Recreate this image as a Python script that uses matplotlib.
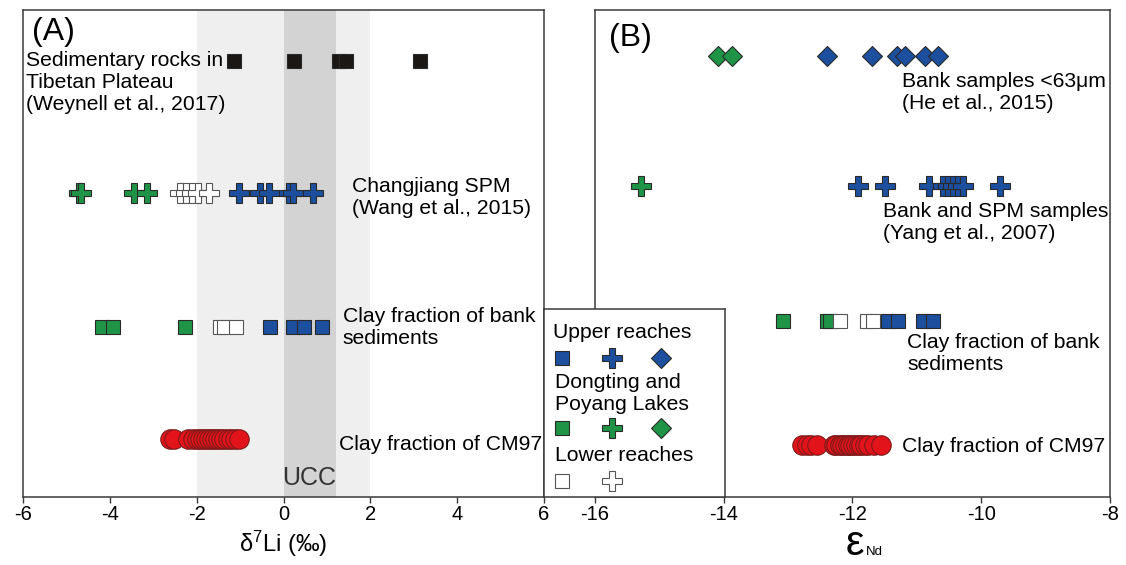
import numpy as np
import matplotlib
matplotlib.use("Agg")
import matplotlib.pyplot as plt

plt.rcParams['font.family'] = ['Liberation Sans', 'DejaVu Sans']
plt.rcParams['mathtext.fontset'] = 'custom'
plt.rcParams['mathtext.rm'] = 'Liberation Sans'
plt.rcParams['mathtext.it'] = 'Liberation Sans:italic'
plt.rcParams['axes.unicode_minus'] = False

# ---- delta7Li (panel A) ----
li_rocks = [-1.15, 0.25, 1.28, 1.45, 3.15]
li_spm_lakes = [-4.72, -4.66, -3.45, -3.15]
li_spm_lower = [-2.38, -2.24, -2.1, -1.98, -1.72]
li_spm_upper = [-1.02, -0.55, -0.33, 0.12, 0.22, 0.68]
li_bank_lakes = [-4.18, -3.93, -2.27]
li_bank_lower = [-1.47, -1.38, -1.1]
li_bank_upper = [-0.31, 0.22, 0.47, 0.88]
li_cm97 = [-2.62, -2.52, -2.2, -2.08, -2.0, -1.93, -1.86, -1.79, -1.72,
           -1.65, -1.57, -1.5, -1.43, -1.36, -1.28, -1.2, -1.12, -1.02]
ucc_li_range = (-2, 2)
ucc_li_core = (0, 1.22)

# ---- eNd (panel B) ----
nd_63_lakes = [-14.08, -13.87]
nd_63_upper = [-12.39, -11.7, -11.31, -11.18, -10.87, -10.67]
nd_spm_lakes = [-15.28]
nd_spm_upper = [-11.91, -11.49, -10.81, -10.6, -10.52, -10.44, -10.36, -10.28, -9.71]
nd_bank_lakes = [-13.07, -12.4, -12.35]
nd_bank_lower = [-12.19, -11.77, -11.68]
nd_bank_upper = [-11.45, -11.3, -10.91, -10.75]
nd_cm97 = [-12.78, -12.71, -12.65, -12.55, -12.29, -12.25, -12.2, -12.16, -12.12,
           -12.07, -12.03, -11.99, -11.95, -11.9, -11.86, -11.81, -11.76, -11.67, -11.55]

BLUE = '#1c4f9e'
GREEN = '#1f9446'
RED = '#e3131b'
EDGE = '#2a2a2a'
FS = 15.2
LS = 1.2

styles = {
    'sq': dict(marker='s', ms=9.5, mew=0.8),
    'plus': dict(marker='P', ms=14, mew=0.8),
    'dia': dict(marker='D', ms=10.5, mew=0.8),
    'circ': dict(marker='o', ms=14, mew=0.8),
}


def row(ax, xs, y, kind, color, edge=EDGE):
    ax.plot(xs, np.full(len(xs), y), ls='none', mfc=color, mec=edge,
            zorder=3, **styles[kind])


fig = plt.figure(figsize=(11.26, 5.65), dpi=100)
W, H = 1126, 565
ax_a = fig.add_axes([23 / W, 68 / H, 521 / W, 487 / H])
ax_b = fig.add_axes([594.6 / W, 68 / H, 515.6 / W, 487 / H])

for ax in (ax_a, ax_b):
    ax.set_ylim(0, 1)
    ax.set_yticks([])
    for s in ax.spines.values():
        s.set_color('#3a3a3a')
        s.set_linewidth(1.1)
    ax.tick_params(axis='x', direction='out', length=4, width=1, pad=2,
                   labelsize=14.5, color='#3a3a3a')

# panel A
ax_a.set_xlim(-6, 6)
ax_a.set_xticks(np.arange(-6, 7, 2))
ax_a.axvspan(*ucc_li_range, color='#efefef', zorder=0, lw=0)
ax_a.axvspan(*ucc_li_core, color='#d3d3d3', zorder=0, lw=0)

row(ax_a, li_rocks, 0.895, 'sq', '#1a1715', EDGE)
row(ax_a, li_spm_lakes, 0.624, 'plus', GREEN)
row(ax_a, li_spm_lower, 0.624, 'plus', 'white', '#555555')
row(ax_a, li_spm_upper, 0.624, 'plus', BLUE)
row(ax_a, li_bank_lakes, 0.349, 'sq', GREEN)
row(ax_a, li_bank_lower, 0.349, 'sq', 'white', '#555555')
row(ax_a, li_bank_upper, 0.349, 'sq', BLUE)
row(ax_a, li_cm97, 0.120, 'circ', RED, '#7a1a1a')

ax_a.text(-5.8, 0.955, '(A)', fontsize=23, va='center', ha='left')
ax_a.text(-5.94, 0.852, 'Sedimentary rocks in\nTibetan Plateau\n(Weynell et al., 2017)',
          fontsize=FS, va='center', ha='left', linespacing=LS)
ax_a.text(1.57, 0.616, 'Changjiang SPM\n(Wang et al., 2015)',
          fontsize=FS, va='center', ha='left', linespacing=LS)
ax_a.text(1.36, 0.349, 'Clay fraction of bank\nsediments',
          fontsize=FS, va='center', ha='left', linespacing=LS)
ax_a.text(1.27, 0.107, 'Clay fraction of CM97', fontsize=FS, va='center', ha='left')
ax_a.text(0.6, 0.040, 'UCC', fontsize=18, va='center', ha='center', color='#333333')
ax_a.set_xlabel(r'δ$^{7}$Li (‰)', fontsize=17)
ax_a.xaxis.set_label_coords(0.5, -0.066)

# panel B
ax_b.set_xlim(-16, -8)
ax_b.set_xticks(np.arange(-16, -7, 2))

row(ax_b, nd_63_lakes, 0.906, 'dia', GREEN)
row(ax_b, nd_63_upper, 0.906, 'dia', BLUE)
row(ax_b, nd_spm_lakes, 0.639, 'plus', GREEN)
row(ax_b, nd_spm_upper, 0.639, 'plus', BLUE)
row(ax_b, nd_bank_lakes, 0.362, 'sq', GREEN)
row(ax_b, nd_bank_lower, 0.362, 'sq', 'white', '#555555')
row(ax_b, nd_bank_upper, 0.362, 'sq', BLUE)
row(ax_b, nd_cm97, 0.107, 'circ', RED, '#7a1a1a')

ax_b.text(-15.77, 0.942, '(B)', fontsize=23, va='center', ha='left')
ax_b.text(-11.23, 0.830, 'Bank samples <63μm\n(He et al., 2015)',
          fontsize=FS, va='center', ha='left', linespacing=LS)
ax_b.text(-11.53, 0.563, 'Bank and SPM samples\n(Yang et al., 2007)',
          fontsize=FS, va='center', ha='left', linespacing=LS)
ax_b.text(-11.15, 0.294, 'Clay fraction of bank\nsediments',
          fontsize=FS, va='center', ha='left', linespacing=LS)
ax_b.text(-11.23, 0.103, 'Clay fraction of CM97', fontsize=FS, va='center', ha='left')
fig.text(855 / W, 10 / H, 'ε', fontsize=30, ha='center', va='baseline')
fig.text(866 / W, 10 / H, 'Nd', fontsize=9.5, ha='left', va='baseline')

# legend box
lg = fig.add_axes([544 / W, 68 / H, 181.3 / W, 188.2 / H], zorder=5)
lg.set_xlim(0, 1)
lg.set_ylim(0, 1)
lg.set_xticks([])
lg.set_yticks([])
for s in lg.spines.values():
    s.set_color('#3a3a3a')
    s.set_linewidth(1.1)
lg.text(0.05, 0.872, 'Upper reaches', fontsize=FS, va='center')
row(lg, [0.10], 0.741, 'sq', BLUE)
row(lg, [0.373], 0.741, 'plus', BLUE)
row(lg, [0.645], 0.741, 'dia', BLUE)
lg.text(0.06, 0.551, 'Dongting and\nPoyang Lakes', fontsize=FS, va='center', linespacing=LS)
row(lg, [0.10], 0.367, 'sq', GREEN)
row(lg, [0.373], 0.367, 'plus', GREEN)
row(lg, [0.645], 0.367, 'dia', GREEN)
lg.text(0.06, 0.223, 'Lower reaches', fontsize=FS, va='center')
row(lg, [0.10], 0.085, 'sq', 'white', '#555555')
row(lg, [0.373], 0.085, 'plus', 'white', '#555555')

fig.savefig('out.png', dpi=100)
